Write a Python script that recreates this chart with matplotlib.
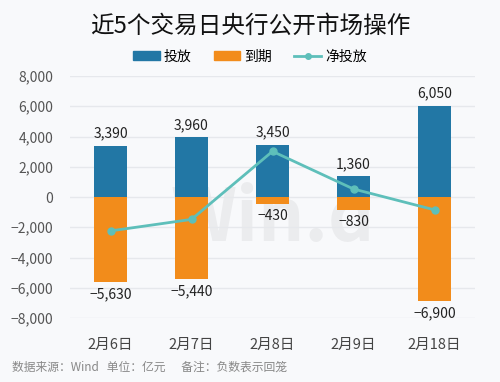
import numpy as np
import matplotlib.pyplot as plt
from matplotlib.lines import Line2D
from matplotlib.patches import Patch

plt.rcParams['font.family'] = ['Noto Sans CJK SC', 'DejaVu Sans']

dates = ["2月6日", "2月7日", "2月8日", "2月9日", "2月18日"]
injection = [3390, 3960, 3450, 1360, 6050]
maturity = [-5630, -5440, -430, -830, -6900]
net = [-2240, -1480, 3020, 530, -850]

blue = "#2277A5"
orange = "#F28C1B"
teal = "#5EBFBA"
bg = "#F8F9FB"

fig = plt.figure(figsize=(5, 3.82), dpi=100, facecolor=bg)
ax = fig.add_axes([0.14, 0.1675, 0.81, 0.6335], facecolor=bg)

x = np.arange(len(dates))
w = 0.4
ax.bar(x, injection, w, color=blue, zorder=2)
ax.bar(x, maturity, w, color=orange, zorder=2)
ax.plot(x, net, color=teal, lw=2, marker="o", ms=5, zorder=3)

for i in range(len(dates)):
    ax.text(x[i], injection[i] + 350, f"{injection[i]:,}", ha="center", va="bottom",
            fontsize=10, color="#222222")
    ax.text(x[i], maturity[i] - 350, f"{maturity[i]:,}".replace("-", "−"), ha="center", va="top",
            fontsize=10, color="#222222")

ax.set_ylim(-8000, 8000)
ax.set_xlim(-0.5, 4.5)
ax.set_yticks(np.arange(-8000, 8001, 2000))
ax.set_yticklabels([f"{v:,}".replace("-", "−") for v in range(-8000, 8001, 2000)])
ax.set_xticks(x)
ax.set_xticklabels(dates, fontsize=10.5, color="#444444")
ax.tick_params(axis="y", labelsize=10, colors="#555555", length=0, pad=12)
ax.tick_params(axis="x", length=0, pad=14)
ax.grid(axis="y", color="#E6E8EC", lw=1, zorder=0)
for s in ax.spines.values():
    s.set_visible(False)

# faint watermark
ax.text(2.0, -1500, "Win.d", fontsize=52, color="#000000", alpha=0.05,
        ha="center", va="center", fontweight="bold", zorder=1)

fig.text(0.5, 0.93, "近5个交易日央行公开市场操作", ha="center", va="center",
         fontsize=17, color="#111111")

handles = [Patch(color=blue), Patch(color=orange),
           Line2D([0], [0], color=teal, lw=2, marker="o", ms=4)]
fig.legend(handles, ["投放", "到期", "净投放"], loc="center", bbox_to_anchor=(0.5, 0.852),
           ncol=3, frameon=False, fontsize=10, handlelength=1.9, handleheight=0.6,
           columnspacing=1.6, handletextpad=0.3)

fig.text(0.025, 0.04, "数据来源：Wind   单位：亿元      备注：负数表示回笼", fontsize=8.5,
         color="#888888", va="center")

fig.savefig("out.png", dpi=100, facecolor=bg)
